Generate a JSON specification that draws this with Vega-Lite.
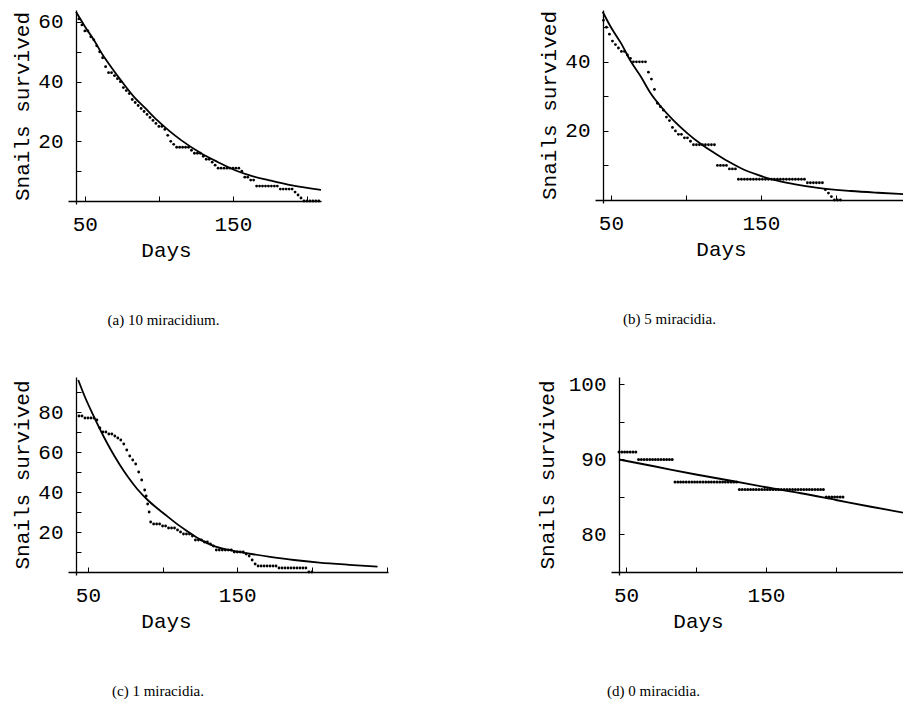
{
  "$schema": "https://vega.github.io/schema/vega-lite/v6.json",
  "background": "white",
  "padding": {"left": 10, "top": 10, "right": 0, "bottom": 0},
  "config": {
    "view": {"stroke": null},
    "axis": {"grid": false, "domainColor": "black", "domainWidth": 1.3, "tickColor": "black", "tickWidth": 1, "tickSize": -5,
      "labelFont": "Liberation Mono", "labelFontSize": 21, "labelColor": "black", "labelFlush": false, "labelOverlap": false,
      "titleFont": "Liberation Mono", "titleFontSize": 21, "titleFontWeight": "normal", "titleColor": "black"},
    "axisX": {"labelPadding": 17.5, "titleY": 49, "titleBaseline": "middle", "titleAlign": "center", "offset": -3},
    "axisY": {"labelPadding": 18, "titleX": -48, "titleBaseline": "alphabetic", "titleAlign": "center", "offset": -8},
    "title": {"font": "Liberation Serif", "fontSize": 15, "fontWeight": "normal", "color": "black", "orient": "bottom", "anchor": "middle", "offset": 53}
  },
  "datasets": {
    "a_fit": [{"day":44,"n":63.4},{"day":50,"n":58.5},{"day":56,"n":54},{"day":62,"n":49},{"day":67.6,"n":45},{"day":75,"n":40},{"day":83,"n":35},{"day":91,"n":31},{"day":99,"n":27},{"day":107,"n":23.5},{"day":115,"n":20.4},{"day":128.5,"n":16},{"day":140,"n":13},{"day":151,"n":10.4},{"day":162,"n":8.5},{"day":174,"n":7},{"day":190,"n":5.2},{"day":209.5,"n":3.7}],
    "a_obs": [{"day":46,"n":61},{"day":48,"n":59},{"day":50,"n":57},{"day":52,"n":57},{"day":54,"n":55},{"day":56,"n":54},{"day":58,"n":52},{"day":60,"n":50},{"day":62,"n":48},{"day":64,"n":45},{"day":66,"n":43},{"day":68,"n":43},{"day":70,"n":42},{"day":72,"n":41},{"day":74,"n":40},{"day":76,"n":38},{"day":78,"n":37},{"day":80,"n":36},{"day":82,"n":34},{"day":84,"n":33},{"day":86,"n":32},{"day":88,"n":31},{"day":90,"n":30},{"day":92,"n":29},{"day":94,"n":28},{"day":96,"n":27},{"day":98,"n":26},{"day":100,"n":25},{"day":102,"n":25},{"day":104,"n":24},{"day":106,"n":22},{"day":108,"n":20},{"day":110,"n":19},{"day":112,"n":18},{"day":114,"n":18},{"day":116,"n":18},{"day":118,"n":18},{"day":120,"n":18},{"day":122,"n":17},{"day":124,"n":16},{"day":126,"n":16},{"day":128,"n":16},{"day":130,"n":15},{"day":132,"n":14},{"day":134,"n":14},{"day":136,"n":13},{"day":138,"n":12},{"day":140,"n":11},{"day":142,"n":11},{"day":144,"n":11},{"day":146,"n":11},{"day":148,"n":11},{"day":150,"n":11},{"day":152,"n":11},{"day":154,"n":11},{"day":156,"n":10},{"day":158,"n":8},{"day":160,"n":8},{"day":162,"n":7},{"day":164,"n":7},{"day":166,"n":5},{"day":168,"n":5},{"day":170,"n":5},{"day":172,"n":5},{"day":174,"n":5},{"day":176,"n":5},{"day":178,"n":5},{"day":180,"n":5},{"day":182,"n":4},{"day":184,"n":4},{"day":186,"n":4},{"day":188,"n":4},{"day":190,"n":4},{"day":192,"n":3},{"day":194,"n":2},{"day":196,"n":1},{"day":198,"n":0},{"day":200,"n":0},{"day":202,"n":0},{"day":204,"n":0},{"day":206,"n":0},{"day":208,"n":0}],
    "b_fit": [{"day":44.5,"n":54.5},{"day":50,"n":50},{"day":56.7,"n":45.4},{"day":63,"n":40.3},{"day":70,"n":35.7},{"day":76,"n":31.2},{"day":83.4,"n":27},{"day":92,"n":22.9},{"day":101,"n":19.3},{"day":110,"n":16.2},{"day":119,"n":13.6},{"day":128,"n":11.2},{"day":136.7,"n":9.2},{"day":147,"n":7.4},{"day":158.7,"n":5.8},{"day":172,"n":4.6},{"day":188,"n":3.5},{"day":210,"n":2.6},{"day":228,"n":2.1},{"day":245.4,"n":1.7}],
    "b_obs": [{"day":45,"n":52},{"day":47,"n":50},{"day":49,"n":48},{"day":51,"n":46},{"day":53,"n":45},{"day":55,"n":44},{"day":57,"n":43},{"day":59,"n":43},{"day":61,"n":42},{"day":63,"n":41},{"day":65,"n":40},{"day":67,"n":40},{"day":69,"n":40},{"day":71,"n":40},{"day":73,"n":40},{"day":75,"n":37},{"day":77,"n":35},{"day":79,"n":32},{"day":81,"n":28},{"day":83,"n":27},{"day":85,"n":26},{"day":87,"n":24},{"day":89,"n":23},{"day":91,"n":21},{"day":93,"n":20},{"day":95,"n":19},{"day":97,"n":19},{"day":99,"n":18},{"day":101,"n":18},{"day":103,"n":17},{"day":105,"n":16},{"day":107,"n":16},{"day":109,"n":16},{"day":111,"n":16},{"day":113,"n":16},{"day":115,"n":16},{"day":117,"n":16},{"day":119,"n":16},{"day":121,"n":10},{"day":123,"n":10},{"day":125,"n":10},{"day":127,"n":10},{"day":129,"n":9},{"day":131,"n":9},{"day":133,"n":9},{"day":135,"n":6},{"day":137,"n":6},{"day":139,"n":6},{"day":141,"n":6},{"day":143,"n":6},{"day":145,"n":6},{"day":147,"n":6},{"day":149,"n":6},{"day":151,"n":6},{"day":153,"n":6},{"day":155,"n":6},{"day":157,"n":6},{"day":159,"n":6},{"day":161,"n":6},{"day":163,"n":6},{"day":165,"n":6},{"day":167,"n":6},{"day":169,"n":6},{"day":171,"n":6},{"day":173,"n":6},{"day":175,"n":6},{"day":177,"n":6},{"day":179,"n":6},{"day":181,"n":5},{"day":183,"n":5},{"day":185,"n":5},{"day":187,"n":5},{"day":189,"n":5},{"day":191,"n":5},{"day":193,"n":3},{"day":195,"n":2},{"day":197,"n":1},{"day":199,"n":0},{"day":201,"n":0},{"day":203,"n":0}],
    "c_fit": [{"day":43.5,"n":96},{"day":48,"n":87.5},{"day":54,"n":77.7},{"day":60,"n":68.5},{"day":65.4,"n":61},{"day":71,"n":54},{"day":76.6,"n":47.7},{"day":83,"n":41.5},{"day":90,"n":36},{"day":97,"n":31.5},{"day":103.4,"n":27.7},{"day":110,"n":23.8},{"day":116.8,"n":20.3},{"day":125,"n":16.3},{"day":134.5,"n":12.9},{"day":145,"n":10.9},{"day":157,"n":9.3},{"day":172,"n":7.6},{"day":188,"n":6},{"day":205,"n":4.7},{"day":225,"n":3.6},{"day":244,"n":2.7}],
    "c_obs": [{"day":44,"n":78},{"day":46,"n":78},{"day":48,"n":77},{"day":50,"n":77},{"day":52,"n":77},{"day":54,"n":77},{"day":56,"n":76},{"day":58,"n":72},{"day":60,"n":70},{"day":62,"n":70},{"day":64,"n":69},{"day":66,"n":69},{"day":68,"n":68},{"day":70,"n":67},{"day":72,"n":66},{"day":74,"n":64},{"day":76,"n":61},{"day":78,"n":58},{"day":80,"n":56},{"day":82,"n":54},{"day":84,"n":50},{"day":86,"n":46},{"day":88,"n":41},{"day":89,"n":38},{"day":90,"n":34},{"day":91,"n":30},{"day":92,"n":25},{"day":94,"n":24},{"day":96,"n":24},{"day":98,"n":24},{"day":100,"n":23},{"day":102,"n":23},{"day":104,"n":22},{"day":106,"n":22},{"day":108,"n":22},{"day":110,"n":21},{"day":112,"n":20},{"day":114,"n":19},{"day":116,"n":19},{"day":118,"n":19},{"day":120,"n":18},{"day":122,"n":16},{"day":124,"n":16},{"day":126,"n":16},{"day":128,"n":15},{"day":130,"n":15},{"day":132,"n":14},{"day":134,"n":13},{"day":136,"n":11},{"day":138,"n":11},{"day":140,"n":11},{"day":142,"n":11},{"day":144,"n":11},{"day":146,"n":11},{"day":148,"n":10},{"day":150,"n":10},{"day":152,"n":10},{"day":154,"n":10},{"day":156,"n":9},{"day":158,"n":8},{"day":160,"n":6},{"day":162,"n":4},{"day":164,"n":3},{"day":166,"n":3},{"day":168,"n":3},{"day":170,"n":3},{"day":172,"n":3},{"day":174,"n":3},{"day":176,"n":3},{"day":178,"n":2},{"day":180,"n":2},{"day":182,"n":2},{"day":184,"n":2},{"day":186,"n":2},{"day":188,"n":2},{"day":190,"n":2},{"day":192,"n":2},{"day":194,"n":2},{"day":196,"n":2},{"day":198,"n":0},{"day":200,"n":0}],
    "d_fit": [{"day":45,"n":90.0},{"day":70,"n":89.1},{"day":100,"n":88.0},{"day":127,"n":87.1},{"day":150,"n":86.3},{"day":175,"n":85.5},{"day":200,"n":84.6},{"day":225,"n":83.7},{"day":248.6,"n":82.9}],
    "d_obs": [{"day":45,"n":91},{"day":47,"n":91},{"day":49,"n":91},{"day":51,"n":91},{"day":53,"n":91},{"day":55,"n":91},{"day":57,"n":91},{"day":59,"n":90},{"day":61,"n":90},{"day":63,"n":90},{"day":65,"n":90},{"day":67,"n":90},{"day":69,"n":90},{"day":71,"n":90},{"day":73,"n":90},{"day":75,"n":90},{"day":77,"n":90},{"day":79,"n":90},{"day":81,"n":90},{"day":83,"n":90},{"day":85,"n":87},{"day":87,"n":87},{"day":89,"n":87},{"day":91,"n":87},{"day":93,"n":87},{"day":95,"n":87},{"day":97,"n":87},{"day":99,"n":87},{"day":101,"n":87},{"day":103,"n":87},{"day":105,"n":87},{"day":107,"n":87},{"day":109,"n":87},{"day":111,"n":87},{"day":113,"n":87},{"day":115,"n":87},{"day":117,"n":87},{"day":119,"n":87},{"day":121,"n":87},{"day":123,"n":87},{"day":125,"n":87},{"day":127,"n":87},{"day":129,"n":87},{"day":131,"n":86},{"day":133,"n":86},{"day":135,"n":86},{"day":137,"n":86},{"day":139,"n":86},{"day":141,"n":86},{"day":143,"n":86},{"day":145,"n":86},{"day":147,"n":86},{"day":149,"n":86},{"day":151,"n":86},{"day":153,"n":86},{"day":155,"n":86},{"day":157,"n":86},{"day":159,"n":86},{"day":161,"n":86},{"day":163,"n":86},{"day":165,"n":86},{"day":167,"n":86},{"day":169,"n":86},{"day":171,"n":86},{"day":173,"n":86},{"day":175,"n":86},{"day":177,"n":86},{"day":179,"n":86},{"day":181,"n":86},{"day":183,"n":86},{"day":185,"n":86},{"day":187,"n":86},{"day":189,"n":86},{"day":191,"n":86},{"day":193,"n":85},{"day":195,"n":85},{"day":197,"n":85},{"day":199,"n":85},{"day":201,"n":85},{"day":203,"n":85},{"day":205,"n":85}]
  },
  "bounds": "flush",
  "spacing": 367,
  "vconcat": [
    {
      "bounds": "flush",
      "spacing": 274,
      "hconcat": [
        {
          "width": 253, "height": 194,
          "title": {"text": "(a) 10 miracidium.", "dx": -31},
          "encoding": {
            "x": {"field": "day", "type": "quantitative", "scale": {"domain": [38.6, 209.5], "nice": false, "zero": false},
              "axis": {"title": "Days", "titleX": 98, "values": [50, 100, 150, 200], "labelExpr": "datum.value == 50 || datum.value == 150 ? datum.label : ''"}},
            "y": {"field": "n", "type": "quantitative", "scale": {"domain": [-1.005, 64], "nice": false, "zero": false},
              "axis": {"title": "Snails survived", "titleY": 96, "values": [10, 20, 30, 40, 50, 60], "labelExpr": "datum.value % 20 == 0 ? datum.label : ''"}}
          },
          "layer": [
            {"data": {"name": "a_fit"}, "mark": {"type": "line", "color": "black", "strokeWidth": 1.8, "interpolate": "monotone", "clip": true}},
            {"data": {"name": "a_obs"}, "mark": {"type": "circle", "color": "black", "size": 8, "opacity": 1, "clip": true}}
          ]
        },
        {
          "width": 309, "height": 193,
          "title": {"text": "(b) 5 miracidia.", "dx": -80},
          "encoding": {
            "x": {"field": "day", "type": "quantitative", "scale": {"domain": [39.37, 245.4], "nice": false, "zero": false},
              "axis": {"title": "Days", "titleX": 126, "values": [50, 100, 150, 200], "labelExpr": "datum.value == 50 || datum.value == 150 ? datum.label : ''"}},
            "y": {"field": "n", "type": "quantitative", "scale": {"domain": [-0.868, 55], "nice": false, "zero": false},
              "axis": {"title": "Snails survived", "titleY": 95, "values": [10, 20, 30, 40, 50], "labelExpr": "datum.value % 20 == 0 ? datum.label : ''"}}
          },
          "layer": [
            {"data": {"name": "b_fit"}, "mark": {"type": "line", "color": "black", "strokeWidth": 1.8, "interpolate": "monotone", "clip": true}},
            {"data": {"name": "b_obs"}, "mark": {"type": "circle", "color": "black", "size": 8, "opacity": 1, "clip": true}}
          ]
        }
      ]
    },
    {
      "bounds": "flush",
      "spacing": 223,
      "hconcat": [
        {
          "width": 320, "height": 198,
          "title": {"text": "(c) 1 miracidia.", "dx": -70},
          "encoding": {
            "x": {"field": "day", "type": "quantitative", "scale": {"domain": [36.64, 251], "nice": false, "zero": false},
              "axis": {"title": "Days", "titleX": 98, "values": [50, 100, 150, 200, 250], "labelExpr": "datum.value == 50 || datum.value == 150 ? datum.label : ''"}},
            "y": {"field": "n", "type": "quantitative", "scale": {"domain": [-1.5, 97.5], "nice": false, "zero": false},
              "axis": {"title": "Snails survived", "titleY": 97.5, "values": [10, 20, 30, 40, 50, 60, 70, 80, 90], "labelExpr": "datum.value % 20 == 0 ? datum.label : ''"}}
          },
          "layer": [
            {"data": {"name": "c_fit"}, "mark": {"type": "line", "color": "black", "strokeWidth": 1.8, "interpolate": "monotone", "clip": true}},
            {"data": {"name": "c_obs"}, "mark": {"type": "circle", "color": "black", "size": 8, "opacity": 1, "clip": true}}
          ]
        },
        {
          "width": 293, "height": 198,
          "title": {"text": "(d) 0 miracidia.", "dx": -104},
          "encoding": {
            "x": {"field": "day", "type": "quantitative", "scale": {"domain": [39.29, 248.6], "nice": false, "zero": false},
              "axis": {"title": "Days", "titleX": 87, "values": [50, 100, 150, 200], "labelExpr": "datum.value == 50 || datum.value == 150 ? datum.label : ''"}},
            "y": {"field": "n", "type": "quantitative", "scale": {"domain": [74.6, 101], "nice": false, "zero": false},
              "axis": {"title": "Snails survived", "titleX": -66, "titleY": 97.5, "values": [80, 85, 90, 95, 100], "labelExpr": "datum.value % 10 == 0 ? datum.label : ''"}}
          },
          "layer": [
            {"data": {"name": "d_fit"}, "mark": {"type": "line", "color": "black", "strokeWidth": 1.8, "interpolate": "monotone", "clip": true}},
            {"data": {"name": "d_obs"}, "mark": {"type": "circle", "color": "black", "size": 9, "opacity": 1, "clip": true}}
          ]
        }
      ]
    }
  ]
}
